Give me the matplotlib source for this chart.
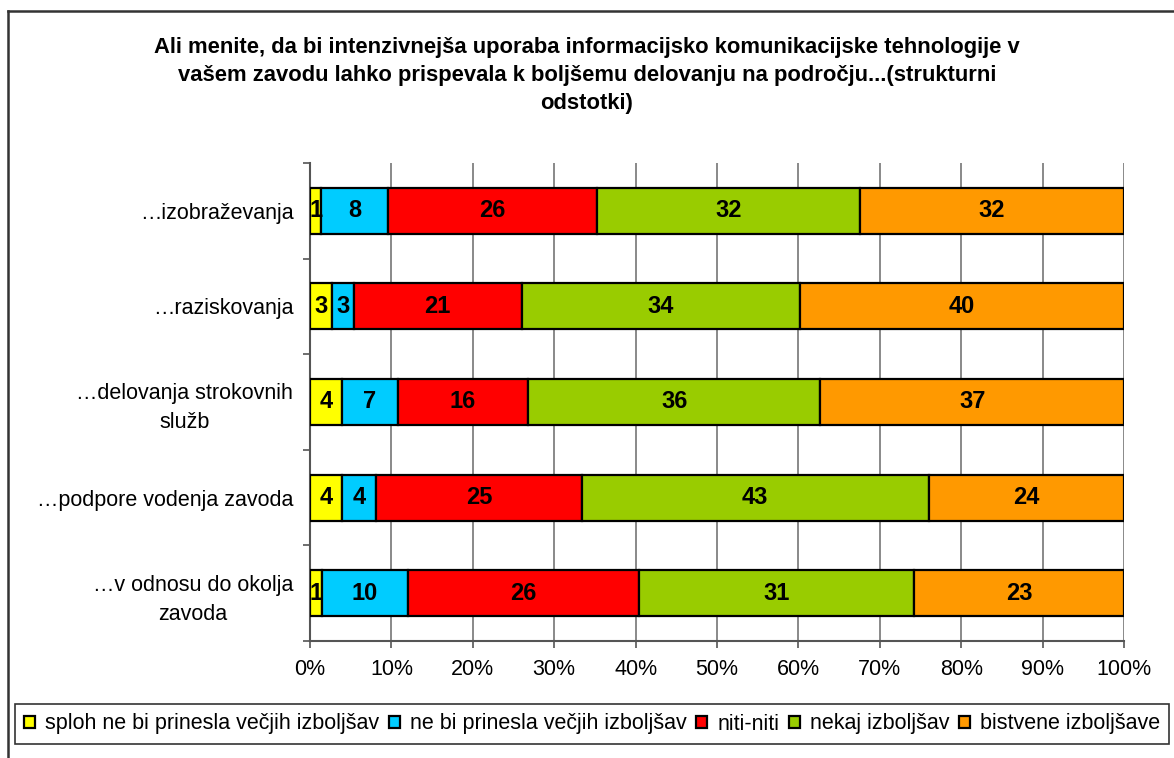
import numpy as np
import matplotlib.pyplot as plt
from matplotlib.lines import Line2D

plt.rcParams['font.family'] = ['Liberation Sans', 'DejaVu Sans']

categories = ['…izobraževanja', '…raziskovanja', '…delovanja strokovnih\nslužb',
              '…podpore vodenja zavoda', '…v odnosu do okolja\nzavoda']
series = ['sploh ne bi prinesla večjih izboljšav', 'ne bi prinesla večjih izboljšav',
          'niti-niti', 'nekaj izboljšav', 'bistvene izboljšave']
colors = ['#FFFF00', '#00CCFF', '#FF0000', '#99CC00', '#FF9900']

# percentages per category (rows) and answer (columns)
sploh = [1.4, 2.7, 3.9, 3.9, 1.3]
ne_bi = [8.2, 2.7, 6.9, 4.2, 9.6]
niti = [25.6, 20.6, 16.0, 25.3, 25.8]
nekaj = [32.4, 34.2, 35.9, 42.6, 30.8]
bistvene = [32.4, 39.8, 37.3, 24.0, 23.4]

data = np.array([sploh, ne_bi, niti, nekaj, bistvene])
shares = data / data.sum(axis=0) * 100

fig = plt.figure(figsize=(11.74, 7.58), dpi=100)
ax = fig.add_axes([310/1174, 117/758, 814/1174, 478/758])

y = np.arange(len(categories))
left = np.zeros(len(categories))
for i in range(len(series)):
    ax.barh(y, shares[i], left=left, height=0.48, color=colors[i],
            edgecolor='black', linewidth=1.6, label=series[i], zorder=3)
    for j in range(len(categories)):
        ax.text(left[j] + shares[i][j] / 2, y[j], f'{data[i][j]:.0f}',
                ha='center', va='center', fontsize=17, fontweight='bold', zorder=4)
    left += shares[i]

ax.set_xlim(0, 100)
ax.set_ylim(len(categories) - 0.5, -0.5)
ax.set_xticks(np.arange(0, 101, 10))
ax.set_xticklabels([f'{v}%' for v in range(0, 101, 10)], fontsize=15.5)
ax.tick_params(axis='x', length=5, width=1.2, color='#555555', pad=8)
ax.set_yticks(y)
ax.set_yticklabels(categories, fontsize=15.5, multialignment='center', linespacing=1.5)
ax.tick_params(axis='y', length=0, pad=12)
ax.set_yticks(np.arange(-0.5, len(categories)), minor=True)
ax.tick_params(axis='y', which='minor', length=5, width=1.2, color='#555555')
ax.xaxis.grid(True, color='#808080', linewidth=1.3, zorder=0)
ax.set_axisbelow(True)
for s in ['top', 'right']:
    ax.spines[s].set_visible(False)
for s in ['left', 'bottom']:
    ax.spines[s].set_color('#555555')
    ax.spines[s].set_linewidth(1.5)

fig.text(0.5, 1 - 37/758,
         'Ali menite, da bi intenzivnejša uporaba informacijsko komunikacijske tehnologije v\n'
         'vašem zavodu lahko prispevala k boljšemu delovanju na področju...(strukturni\n'
         'odstotki)', ha='center', va='top', fontsize=15.8, fontweight='bold', linespacing=1.45)

leg = fig.legend(loc='center', bbox_to_anchor=(592/1174, 1 - 724/758), ncol=5,
                 fontsize=15.5, frameon=True, fancybox=False, handlelength=0.52,
                 handleheight=0.52, handletextpad=0.45, columnspacing=0.45,
                 borderpad=0.42, borderaxespad=0, edgecolor='black')
leg.get_frame().set_linewidth(1.2)

fig.add_artist(Line2D([8/1174, 8/1174], [0, 1 - 11/758], color='#333333', lw=1.8))
fig.add_artist(Line2D([8/1174, 1], [1 - 11/758, 1 - 11/758], color='#333333', lw=1.8))

fig.savefig('out.png', dpi=100)
